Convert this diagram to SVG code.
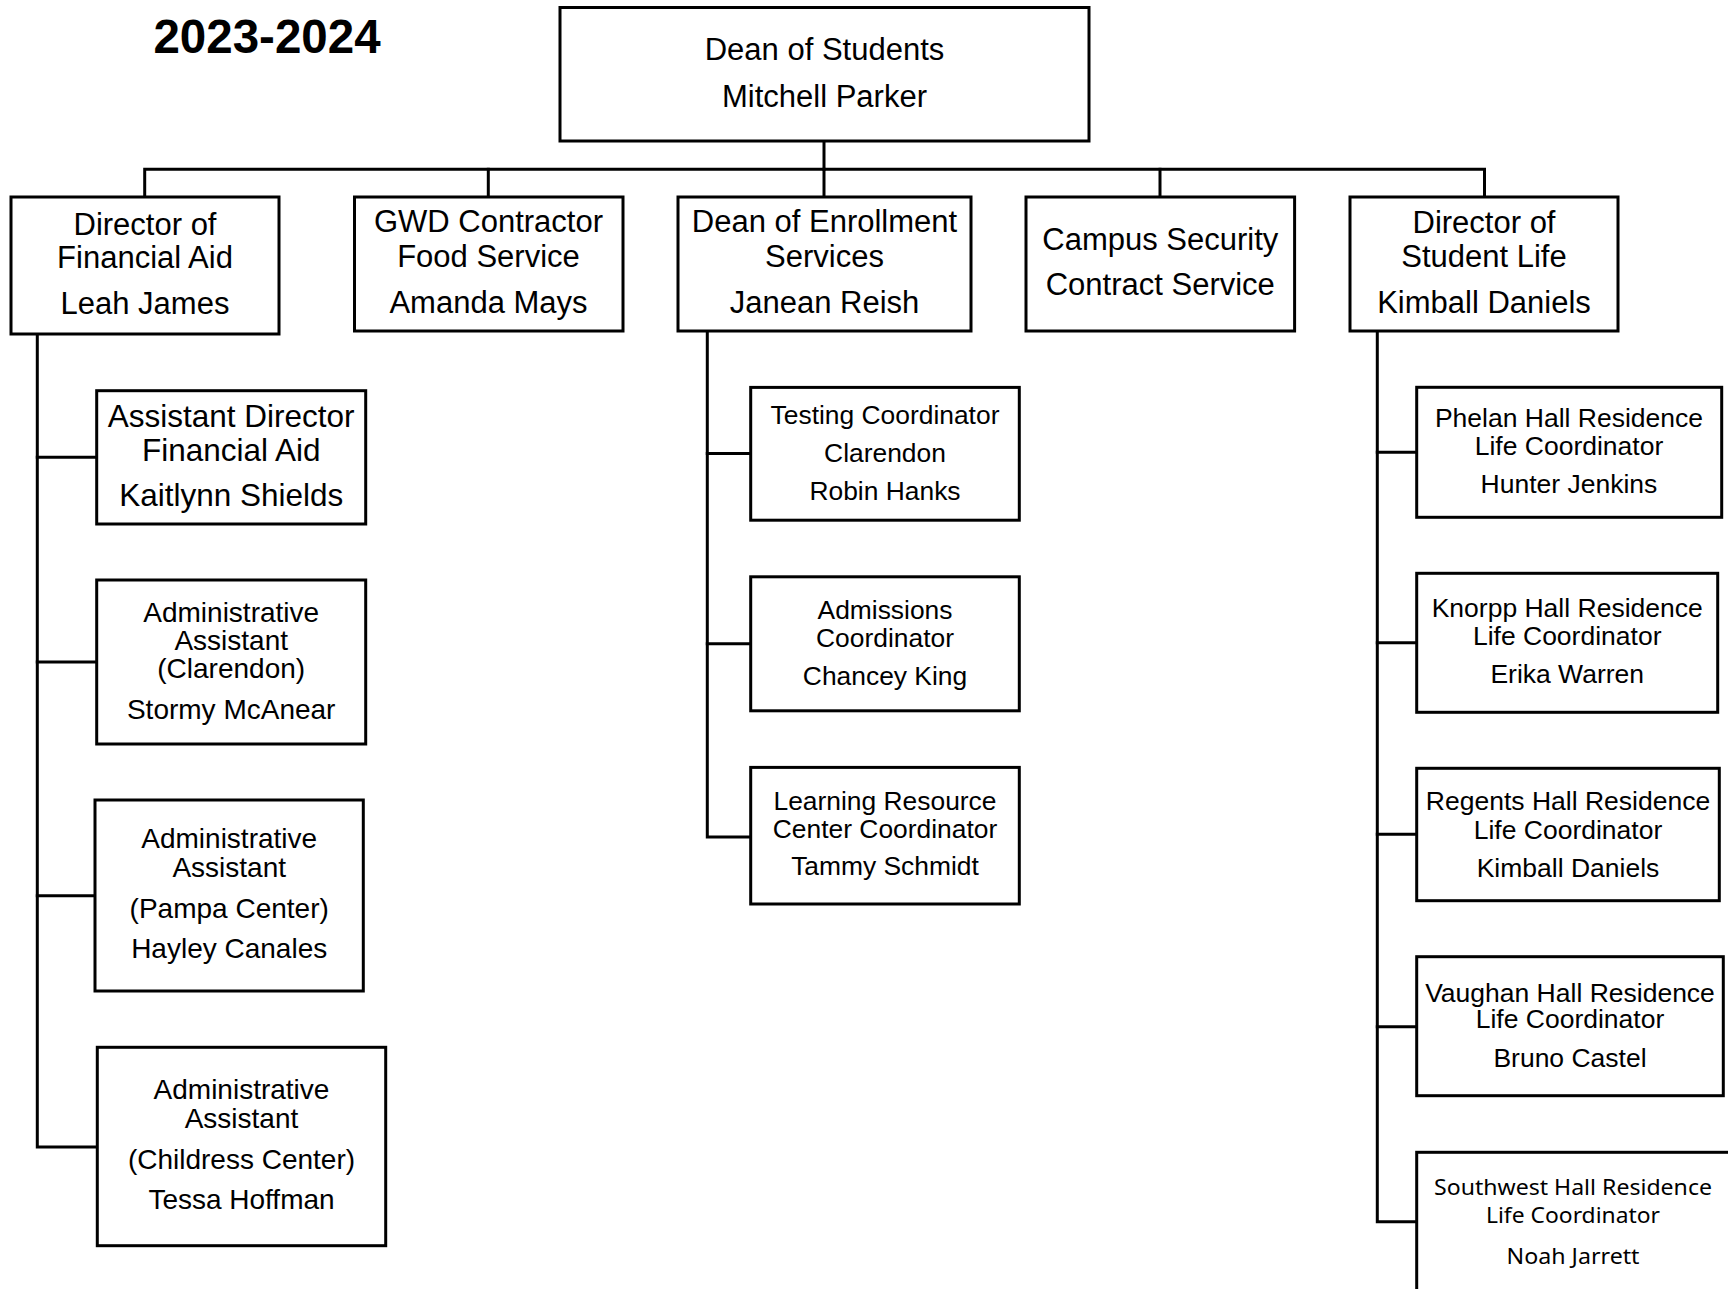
<svg xmlns="http://www.w3.org/2000/svg" width="1728" height="1289" viewBox="0 0 1728 1289">
<style>
  .box{fill:#fff;stroke:#000;stroke-width:3}
  .ln{fill:none;stroke:#000;stroke-width:3;stroke-linejoin:miter;stroke-linecap:square}
  text{font-family:"Liberation Sans",Arial,sans-serif;fill:#000;text-anchor:middle}
  .t31{font-size:31px}
  .t28{font-size:28px}
  .t26{font-size:26.4px}
  .cal{font-family:"Noto Sans","Open Sans",sans-serif;font-size:21.5px}
  .title{font-size:47.5px;font-weight:bold}
</style>
<rect width="1728" height="1289" fill="#fff"/>
<text class="title" x="267" y="53">2023-2024</text>

<g id="connectors">
  <path class="ln" d="M824 141 V169.3"/>
  <path class="ln" d="M144.7 197 V169.3 H1484.5 V197"/>
  <path class="ln" d="M488.3 169.3 V197"/>
  <path class="ln" d="M824 169.3 V197"/>
  <path class="ln" d="M1160 169.3 V197"/>
  <path class="ln" d="M37.3 334 V1147 H97"/>
  <path class="ln" d="M37.3 457.3 H96.7"/>
  <path class="ln" d="M37.3 662 H96.7"/>
  <path class="ln" d="M37.3 895.7 H95"/>
  <path class="ln" d="M707.3 331 V837 H750.7"/>
  <path class="ln" d="M707.3 453.6 H750.7"/>
  <path class="ln" d="M707.3 643.8 H750.7"/>
  <path class="ln" d="M1377.3 331 V1221.7 H1416.7"/>
  <path class="ln" d="M1377.3 452.3 H1416.7"/>
  <path class="ln" d="M1377.3 642.7 H1416.7"/>
  <path class="ln" d="M1377.3 834.3 H1416.7"/>
  <path class="ln" d="M1377.3 1026.7 H1416.7"/>
</g>

<g id="dean-students">
  <rect class="box" x="560" y="7.5" width="529" height="133.5"/>
  <text class="t31" x="824.5" y="60">Dean of Students</text>
  <text class="t31" x="824.5" y="106.7">Mitchell Parker</text>
</g>

<g id="dir-financial-aid">
  <rect class="box" x="11" y="197" width="268" height="137"/>
  <text class="t31" x="145" y="235">Director of</text>
  <text class="t31" x="145" y="268.3">Financial Aid</text>
  <text class="t31" x="145" y="314.3">Leah James</text>
</g>

<g id="gwd-food">
  <rect class="box" x="354.5" y="197" width="268.5" height="134"/>
  <text class="t31" x="488.5" y="232.3">GWD Contractor</text>
  <text class="t31" x="488.5" y="266.7">Food Service</text>
  <text class="t31" x="488.5" y="313.3">Amanda Mays</text>
</g>

<g id="dean-enrollment">
  <rect class="box" x="678" y="197" width="293" height="134"/>
  <text class="t31" x="824.5" y="232.3">Dean of Enrollment</text>
  <text class="t31" x="824.5" y="266.7">Services</text>
  <text class="t31" x="824.5" y="313.3">Janean Reish</text>
</g>

<g id="campus-security">
  <rect class="box" x="1026" y="197" width="268.6" height="134"/>
  <text class="t31" x="1160.3" y="250">Campus Security</text>
  <text class="t31" x="1160.3" y="295">Contract Service</text>
</g>

<g id="dir-student-life">
  <rect class="box" x="1350" y="197" width="268" height="134"/>
  <text class="t31" x="1484" y="233.3">Director of</text>
  <text class="t31" x="1484" y="266.7">Student Life</text>
  <text class="t31" x="1484" y="313.3">Kimball Daniels</text>
</g>

<g id="asst-dir-fa">
  <rect class="box" x="96.7" y="390.7" width="269" height="133.3"/>
  <text class="t31" x="231.2" y="427" style="font-size:31.5px">Assistant Director</text>
  <text class="t31" x="231.2" y="460.7" style="font-size:31.5px">Financial Aid</text>
  <text class="t31" x="231.2" y="506" style="font-size:31.5px">Kaitlynn Shields</text>
</g>

<g id="admin-clarendon">
  <rect class="box" x="96.7" y="580" width="269" height="164"/>
  <text class="t28" x="231.2" y="621.7">Administrative</text>
  <text class="t28" x="231.2" y="650">Assistant</text>
  <text class="t28" x="231.2" y="678">(Clarendon)</text>
  <text class="t28" x="231.2" y="719">Stormy McAnear</text>
</g>

<g id="admin-pampa">
  <rect class="box" x="95" y="800" width="268.3" height="191"/>
  <text class="t28" x="229.2" y="848.3">Administrative</text>
  <text class="t28" x="229.2" y="876.7">Assistant</text>
  <text class="t28" x="229.2" y="918.3">(Pampa Center)</text>
  <text class="t28" x="229.2" y="957.7">Hayley Canales</text>
</g>

<g id="admin-childress">
  <rect class="box" x="97.3" y="1047.3" width="288.4" height="198.4"/>
  <text class="t28" x="241.5" y="1099.3">Administrative</text>
  <text class="t28" x="241.5" y="1127.7">Assistant</text>
  <text class="t28" x="241.5" y="1169.3">(Childress Center)</text>
  <text class="t28" x="241.5" y="1209">Tessa Hoffman</text>
</g>

<g id="testing-coord">
  <rect class="box" x="750.7" y="387.4" width="268.6" height="132.8"/>
  <text class="t26" x="885" y="423.8">Testing Coordinator</text>
  <text class="t26" x="885" y="462">Clarendon</text>
  <text class="t26" x="885" y="500.3">Robin Hanks</text>
</g>

<g id="admissions-coord">
  <rect class="box" x="750.7" y="576.8" width="268.6" height="134"/>
  <text class="t26" x="885" y="619">Admissions</text>
  <text class="t26" x="885" y="646.9">Coordinator</text>
  <text class="t26" x="885" y="685">Chancey King</text>
</g>

<g id="lrc-coord">
  <rect class="box" x="750.7" y="767.4" width="268.6" height="136.6"/>
  <text class="t26" x="885" y="810.3">Learning Resource</text>
  <text class="t26" x="885" y="838.2">Center Coordinator</text>
  <text class="t26" x="885" y="875.3">Tammy Schmidt</text>
</g>

<g id="phelan">
  <rect class="box" x="1416.7" y="387.3" width="305" height="130"/>
  <text class="t26" x="1569" y="426.7" style="font-size:26.5px">Phelan Hall Residence</text>
  <text class="t26" x="1569" y="455" style="font-size:26.5px">Life Coordinator</text>
  <text class="t26" x="1569" y="492.7" style="font-size:26.5px">Hunter Jenkins</text>
</g>

<g id="knorpp">
  <rect class="box" x="1416.7" y="573.3" width="301" height="139"/>
  <text class="t26" x="1567.2" y="617.3" style="font-size:26.5px">Knorpp Hall Residence</text>
  <text class="t26" x="1567.2" y="645" style="font-size:26.5px">Life Coordinator</text>
  <text class="t26" x="1567.2" y="683.3" style="font-size:26.5px">Erika Warren</text>
</g>

<g id="regents">
  <rect class="box" x="1416.7" y="768.3" width="302.6" height="132.4"/>
  <text class="t26" x="1568" y="810" style="font-size:26.5px">Regents Hall Residence</text>
  <text class="t26" x="1568" y="839.3" style="font-size:26.5px">Life Coordinator</text>
  <text class="t26" x="1568" y="877.3" style="font-size:26.5px">Kimball Daniels</text>
</g>

<g id="vaughan">
  <rect class="box" x="1416.7" y="956.7" width="306.6" height="139"/>
  <text class="t26" x="1570" y="1001.7" style="font-size:26.5px">Vaughan Hall Residence</text>
  <text class="t26" x="1570" y="1028.3" style="font-size:26.5px">Life Coordinator</text>
  <text class="t26" x="1570" y="1066.7" style="font-size:26.5px">Bruno Castel</text>
</g>

<g id="southwest">
  <rect class="box" x="1416.7" y="1152.3" width="330" height="200"/>
  <text class="cal" x="1573" y="1195" textLength="278" lengthAdjust="spacingAndGlyphs">Southwest Hall Residence</text>
  <text class="cal" x="1573" y="1223.3" textLength="174" lengthAdjust="spacingAndGlyphs">Life Coordinator</text>
  <text class="cal" x="1573" y="1264.3" textLength="133" lengthAdjust="spacingAndGlyphs">Noah Jarrett</text>
</g>
</svg>
